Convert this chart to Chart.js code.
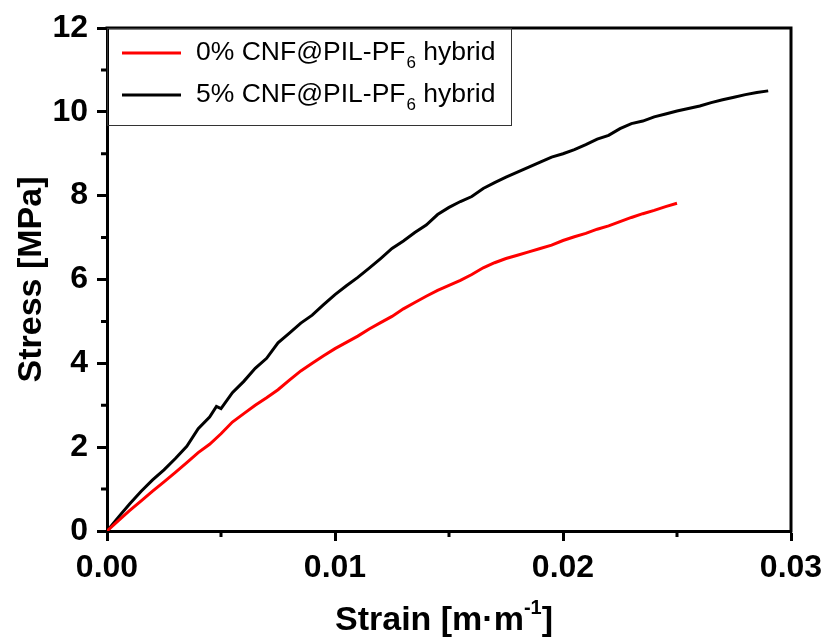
<!DOCTYPE html>
<html>
<head>
<meta charset="utf-8">
<script src="https://cdn.jsdelivr.net/npm/chart.js@4/dist/chart.umd.min.js"></script>
<style>
  html, body { margin: 0; padding: 0; background: #fff; }
  #wrap { width: 826px; height: 641px; }
</style>
</head>
<body>
<div id="wrap"><canvas id="c" width="826" height="641"></canvas></div>
<script>
// ---- data ----
const seriesNames = ["0% CNF@PIL-PF", "5% CNF@PIL-PF"];
const seriesSub = "6";
const seriesSuffix = " hybrid";

const strain0 = [0, 0.0005, 0.001, 0.0015, 0.002, 0.0025, 0.003, 0.0035, 0.004, 0.0045, 0.005, 0.0055, 0.006, 0.0065, 0.007, 0.0075, 0.008, 0.0085, 0.009, 0.0095, 0.010, 0.0105, 0.011, 0.0115, 0.012, 0.0125, 0.013, 0.0135, 0.014, 0.0145, 0.015, 0.0155, 0.016, 0.0165, 0.017, 0.0175, 0.018, 0.0185, 0.019, 0.0195, 0.020, 0.0205, 0.021, 0.0215, 0.022, 0.0225, 0.023, 0.0235, 0.024, 0.0245, 0.025];
const stress0 = [0, 0.25, 0.49, 0.72, 0.95, 1.17, 1.40, 1.63, 1.87, 2.07, 2.32, 2.60, 2.80, 3.00, 3.18, 3.37, 3.60, 3.82, 4.00, 4.18, 4.35, 4.50, 4.65, 4.82, 4.97, 5.12, 5.30, 5.45, 5.60, 5.74, 5.86, 5.98, 6.12, 6.28, 6.40, 6.50, 6.58, 6.66, 6.74, 6.82, 6.93, 7.02, 7.10, 7.20, 7.28, 7.38, 7.48, 7.57, 7.65, 7.74, 7.82];

const strain5 = [0, 0.0005, 0.001, 0.0015, 0.002, 0.0025, 0.003, 0.0035, 0.004, 0.0045, 0.0048, 0.005, 0.0055, 0.006, 0.0065, 0.007, 0.0075, 0.008, 0.0085, 0.009, 0.0095, 0.010, 0.0105, 0.011, 0.0115, 0.012, 0.0125, 0.013, 0.0135, 0.014, 0.0145, 0.015, 0.0155, 0.016, 0.0165, 0.017, 0.0175, 0.018, 0.0185, 0.019, 0.0195, 0.020, 0.0205, 0.021, 0.0215, 0.022, 0.0225, 0.023, 0.0235, 0.024, 0.0245, 0.025, 0.0255, 0.026, 0.0265, 0.027, 0.0275, 0.028, 0.0285, 0.029];
const stress5 = [0, 0.33, 0.65, 0.95, 1.22, 1.46, 1.73, 2.02, 2.44, 2.72, 2.97, 2.92, 3.30, 3.57, 3.88, 4.12, 4.49, 4.72, 4.96, 5.15, 5.40, 5.64, 5.85, 6.05, 6.27, 6.50, 6.74, 6.92, 7.12, 7.30, 7.55, 7.72, 7.86, 7.98, 8.17, 8.31, 8.44, 8.56, 8.68, 8.80, 8.92, 9.00, 9.10, 9.22, 9.35, 9.44, 9.60, 9.72, 9.78, 9.88, 9.95, 10.02, 10.08, 10.14, 10.22, 10.29, 10.35, 10.41, 10.46, 10.50];

const xTicks = [0, 0.01, 0.02, 0.03];
const xTickLabels = ["0.00", "0.01", "0.02", "0.03"];
const yTicks = [0, 2, 4, 6, 8, 10, 12];
const xMinor = [0.005, 0.015, 0.025];
const yMinor = [1, 3, 5, 7, 9, 11];

const toPts = (xs, ys) => xs.map((x, i) => ({ x: x, y: ys[i] }));

const FONT = "'Liberation Sans', Arial, Helvetica, sans-serif";

const framePlugin = {
  id: 'frame',
  afterDraw(chart) {
    const ctx = chart.ctx;
    const a = chart.chartArea;
    const xs = chart.scales.x, ys = chart.scales.y;
    ctx.save();
    ctx.strokeStyle = '#000';
    ctx.lineWidth = 3;
    ctx.lineCap = 'square';
    // top and right frame
    ctx.beginPath();
    ctx.moveTo(a.left, a.top);
    ctx.lineTo(a.right, a.top);
    ctx.lineTo(a.right, a.bottom);
    ctx.stroke();
    // minor ticks
    ctx.lineCap = 'butt';
    ctx.beginPath();
    xMinor.forEach(v => {
      const p = xs.getPixelForValue(v);
      ctx.moveTo(p, a.bottom);
      ctx.lineTo(p, a.bottom + 6);
    });
    yMinor.forEach(v => {
      const p = ys.getPixelForValue(v);
      ctx.moveTo(a.left, p);
      ctx.lineTo(a.left - 6, p);
    });
    ctx.stroke();

    // legend box
    ctx.lineWidth = 1;
    ctx.strokeStyle = '#333';
    ctx.strokeRect(a.left + 0.5, a.top + 0.5, 404, 97);
    const rows = [{ y: a.top + 25, color: '#ff0000' }, { y: a.top + 67, color: '#000000' }];
    rows.forEach((r, i) => {
      ctx.strokeStyle = r.color;
      ctx.lineWidth = 3;
      ctx.beginPath();
      ctx.moveTo(a.left + 15, r.y);
      ctx.lineTo(a.left + 74, r.y);
      ctx.stroke();
      ctx.fillStyle = '#000';
      ctx.textBaseline = 'middle';
      ctx.textAlign = 'left';
      ctx.font = '26.5px ' + FONT;
      let x = a.left + 89;
      ctx.fillText(seriesNames[i], x, r.y);
      x += ctx.measureText(seriesNames[i]).width;
      ctx.font = '17px ' + FONT;
      ctx.fillText(seriesSub, x + 1, r.y + 10);
      x += ctx.measureText(seriesSub).width + 1;
      ctx.font = '26.5px ' + FONT;
      ctx.fillText(seriesSuffix, x, r.y);
    });

    // axis titles
    ctx.fillStyle = '#000';
    const big = 'bold 34px ' + FONT, small = 'bold 20px ' + FONT;
    ctx.font = big;
    ctx.textBaseline = 'alphabetic';
    ctx.textAlign = 'left';
    const t1 = 'Strain [m·m', t2 = '-1', t3 = ']';
    const w1 = ctx.measureText(t1).width;
    ctx.font = small;
    const w2 = ctx.measureText(t2).width;
    ctx.font = big;
    const w3 = ctx.measureText(t3).width;
    const cx = 444;
    let sx = cx - (w1 + w2 + w3) / 2;
    const by = 630;
    ctx.fillText(t1, sx, by);
    ctx.font = small;
    ctx.fillText(t2, sx + w1, by - 16);
    ctx.font = big;
    ctx.fillText(t3, sx + w1 + w2, by);

    ctx.save();
    ctx.translate(41, (a.top + a.bottom) / 2);
    ctx.rotate(-Math.PI / 2);
    ctx.textAlign = 'center';
    ctx.fillText('Stress [MPa]', 0, 0);
    ctx.restore();
    ctx.restore();
  }
};

new Chart(document.getElementById('c'), {
  type: 'line',
  data: {
    datasets: [
      { label: '0% CNF@PIL-PF6 hybrid', data: toPts(strain0, stress0), borderColor: '#ff0000', borderWidth: 3, pointRadius: 0, tension: 0, fill: false },
      { label: '5% CNF@PIL-PF6 hybrid', data: toPts(strain5, stress5), borderColor: '#000000', borderWidth: 3, pointRadius: 0, tension: 0, fill: false }
    ]
  },
  options: {
    responsive: false,
    animation: false,
    devicePixelRatio: 1,
    layout: { padding: { left: 0, top: 28, right: 35, bottom: 0 } },
    plugins: { legend: { display: false }, tooltip: { enabled: false }, title: { display: false } },
    scales: {
      x: {
        type: 'linear', min: 0, max: 0.03,
        afterFit(s) { s.height = 110; s.paddingRight = 0; },
        afterBuildTicks(s) { s.ticks = xTicks.map(v => ({ value: v })); },
        grid: { drawOnChartArea: false, drawTicks: true, tickLength: 10, tickWidth: 3, tickColor: '#000' },
        border: { display: true, width: 3, color: '#000' },
        ticks: {
          padding: 8, color: '#000', maxRotation: 0,
          font: { family: FONT, size: 32, weight: 'bold' },
          callback: (v) => { const i = xTicks.indexOf(v); return i >= 0 ? xTickLabels[i] : ''; }
        }
      },
      y: {
        type: 'linear', min: 0, max: 12,
        afterFit(s) { s.width = 107; s.paddingTop = 0; },
        afterBuildTicks(s) { s.ticks = yTicks.map(v => ({ value: v })); },
        grid: { drawOnChartArea: false, drawTicks: true, tickLength: 10, tickWidth: 3, tickColor: '#000' },
        border: { display: true, width: 3, color: '#000' },
        ticks: {
          padding: 9, color: '#000',
          font: { family: FONT, size: 32, weight: 'bold' }
        }
      }
    }
  },
  plugins: [framePlugin]
});
</script>
</body>
</html>
